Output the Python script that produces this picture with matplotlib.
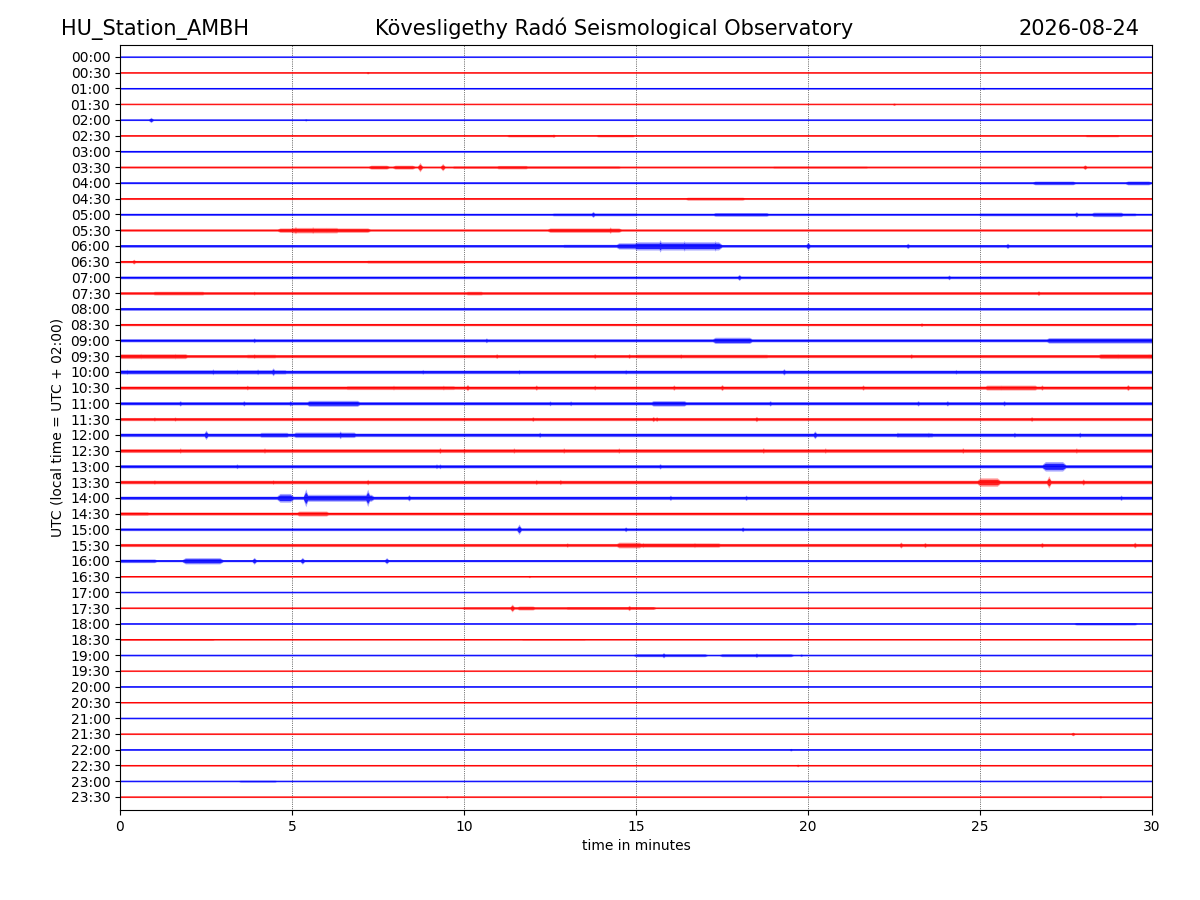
import numpy as np
import matplotlib
matplotlib.use("Agg")
import matplotlib.pyplot as plt

# ---------------- data ----------------
STATION = "HU_Station_AMBH"
OBSERVATORY = "Kövesligethy Radó Seismological Observatory"
DATE = "2026-08-24"
XLABEL = "time in minutes"
YLABEL = "UTC (local time = UTC + 02:00)"

row_labels = [f"{h:02d}:{m:02d}" for h in range(24) for m in (0, 30)]
row_colors = ["blue", "red"] * 24

# background noise half-amplitude of each 30-minute trace (screen pixels)
base_amp = [0.5, 0.5, 0.6, 0.5, 0.55, 0.6, 0.8, 0.75, 0.75, 0.75,
            0.9, 0.9, 1.1, 1.0, 1.15, 1.15, 1.15, 1.0, 1.3, 1.3,
            1.5, 1.4, 1.4, 1.3, 1.5, 1.6, 1.4, 1.5, 1.4, 1.3,
            1.15, 1.3, 0.9, 0.6, 0.55, 0.6, 0.55, 0.6, 0.6, 0.5,
            0.55, 0.55, 0.55, 0.55, 0.6, 0.6, 0.55, 0.55]

# wave trains: (row, start minute, end minute, half-amplitude)
bursts_row = [5, 5, 5,
              7, 7, 7, 7, 7,
              8, 8, 8,
              9, 10, 10, 10, 10, 10,
              11, 11, 11, 11,
              12, 12, 12, 13, 15, 15,
              18, 18, 18,
              19, 19, 19, 19,
              20, 20,
              21, 21,
              22, 22,
              24, 24, 24,
              26,
              27, 28, 28,
              29, 29,
              31, 31,
              32, 32,
              35, 35, 35,
              36, 37, 37,
              38, 38, 46]
bursts_t0 = [11.3, 13.9, 28.1,
             7.3, 8.0, 9.7, 11.0, 19.0,
             26.6, 29.3, 25.0,
             16.5, 12.6, 15.0, 17.3, 28.3, 25.0,
             4.65, 12.5, 15.0, 5.0,
             12.9, 14.5, 15.0, 7.2, 1.0, 10.1,
             17.3, 27.0, 0.0,
             0.0, 3.7, 15.0, 28.5,
             0.0, 5.0,
             6.6, 25.2,
             5.5, 15.5,
             4.1, 5.1, 22.6,
             26.9,
             25.0, 4.65, 5.4,
             0.0, 5.2,
             14.5, 15.0,
             0.0, 1.9,
             10.0, 11.6, 13.0,
             27.8, 0.0, 11.7,
             15.0, 17.5, 3.5]
bursts_t1 = [12.6, 14.9, 29.0,
             7.75, 8.5, 14.5, 11.8, 21.7,
             27.7, 29.9, 29.5,
             18.1, 15.0, 21.2, 18.8, 29.1, 29.5,
             7.2, 14.5, 17.9, 6.3,
             15.0, 15.0, 17.4, 10.0, 2.4, 10.5,
             18.3, 30.0, 4.0,
             1.9, 4.5, 18.8, 30.0,
             4.8, 30.0,
             9.7, 26.6,
             6.9, 16.4,
             4.85, 6.8, 23.6,
             27.4,
             25.5, 4.95, 7.3,
             0.8, 6.0,
             15.1, 17.4,
             1.0, 2.9,
             14.5, 12.0, 15.5,
             29.5, 2.7, 13.5,
             17.0, 19.5, 4.5]
bursts_amp = [1.0, 1.0, 0.9,
              1.6, 1.6, 1.0, 1.4, 0.9,
              1.5, 1.6, 0.8,
              1.2, 1.2, 1.0, 1.5, 1.8, 1.2,
              1.8, 1.8, 0.8, 2.2,
              1.3, 2.5, 3.3, 1.2, 1.5, 1.5,
              2.5, 2.2, 1.3,
              2.0, 1.5, 1.5, 2.0,
              1.8, 1.4,
              1.6, 2.0,
              2.4, 2.2,
              2.0, 2.2, 1.8,
              3.8,
              3.4, 3.5, 2.8,
              1.5, 2.0,
              2.3, 1.8,
              1.5, 2.5,
              1.0, 1.6, 1.2,
              1.0, 0.8, 0.7,
              1.2, 1.2, 0.8]

# single short arrivals: (row, minute, half-amplitude)
spikes_row = [1, 2, 3, 4, 4, 5, 7, 7, 7, 7, 10, 10, 11, 11, 11, 11,
              12, 12, 12, 12, 12, 12, 13, 14, 14, 15, 15, 17, 18, 18,
              19, 19, 20, 20, 21, 21, 21, 21, 23, 23, 23, 23, 24, 24, 24,
              25, 25, 26, 26, 27, 27, 27, 28, 28, 28, 30, 30, 30, 31, 31,
              32, 32, 32, 32, 33, 35, 35, 38, 38, 38, 43, 44, 45, 47, 47,
              # smaller arrivals on the busy day-time traces
              19, 19, 19, 19, 19, 19, 19, 19,
              20, 20, 20, 20, 20, 20, 20, 20,
              21, 21, 21, 21, 21, 21, 21, 21,
              22, 22, 22, 22, 22, 22, 22, 22, 22,
              23, 23, 23,
              24, 24, 24, 24, 24,
              25, 25, 25, 25, 25, 25, 25, 25, 25,
              26, 26,
              27, 27, 27, 27, 27,
              28, 28, 28, 29,
              31, 31, 31, 31, 31]
spikes_t = [7.2, 25.1, 22.5, 0.9, 5.4, 12.6, 8.72, 9.38, 28.05, 7.6, 13.75, 27.8,
            5.1, 5.6, 6.0, 14.25,
            15.7, 16.4, 17.3, 20.0, 22.9, 25.8, 0.4, 18.0, 24.1, 3.9, 26.7,
            23.3, 3.9, 10.65,
            0.6, 1.6, 4.45, 19.3, 10.1, 16.1, 17.5, 29.3, 1.0, 1.6, 12.0, 15.5,
            2.5, 6.4, 20.2,
            18.7, 24.5, 9.3, 15.7, 7.2, 27.0, 28.0, 5.4, 7.2, 8.4, 11.6, 14.7,
            18.1, 13.0, 22.7,
            3.9, 5.3, 7.75, 2.3, 11.9, 11.4, 14.8, 15.8, 18.5, 19.8, 27.7,
            19.5, 19.7, 9.5, 28.5,
            3.9, 10.95, 13.8, 14.8, 16.3, 23.0, 29.0, 29.9,
            0.2, 2.7, 3.4, 4.0, 8.8, 11.6, 14.7, 24.3,
            3.7, 7.95, 9.4, 12.1, 13.8, 21.6, 25.6, 26.8,
            1.75, 3.6, 4.95, 12.5, 13.1, 18.9, 23.2, 24.05, 25.7,
            15.6, 18.5, 26.5,
            12.2, 22.6, 23.5, 26.0, 27.9,
            1.75, 4.2, 9.3, 10.0, 11.45, 12.9, 14.5, 20.5, 27.8,
            3.4, 9.2,
            1.0, 4.45, 12.1, 12.8, 25.3,
            16.0, 18.2, 29.1, 5.5,
            15.2, 16.7, 23.4, 26.8, 29.5]
spikes_amp = [1.0, 1.0, 1.0, 2.2, 0.9, 1.4, 3.8, 3.0, 2.0, 1.4, 2.5, 2.3,
              3.0, 2.8, 2.3, 2.6,
              5.0, 4.2, 4.2, 3.2, 2.2, 2.2, 2.0, 2.5, 2.0, 1.6, 2.0,
              1.6, 2.0, 2.0,
              2.3, 2.3, 3.2, 2.6, 2.6, 2.2, 2.5, 2.5, 1.8, 1.8, 2.0, 2.2,
              3.8, 3.2, 3.2,
              2.3, 2.3, 2.0, 2.2, 2.3, 5.0, 2.6, 7.2, 7.0, 2.6, 4.2, 2.0,
              2.0, 1.9, 2.5,
              2.8, 2.8, 2.6, 2.6, 1.0, 3.2, 2.2, 2.2, 1.9, 1.1, 1.5,
              1.1, 1.1, 0.9, 0.9,
              2.0, 2.0, 2.0, 2.0, 2.0, 2.0, 2.2, 2.2,
              2.2, 2.4, 2.2, 2.4, 2.0, 2.0, 2.0, 2.0,
              2.0, 2.0, 2.0, 2.2, 2.0, 2.2, 2.2, 2.2,
              2.2, 2.2, 2.2, 2.0, 2.0, 2.2, 2.2, 2.2, 2.2,
              2.0, 2.2, 2.0,
              2.2, 2.2, 2.2, 2.2, 2.2,
              2.2, 2.2, 2.4, 2.2, 2.2, 2.2, 2.2, 2.2, 2.2,
              2.0, 2.0,
              2.0, 2.0, 2.2, 2.2, 2.4,
              2.2, 2.2, 2.2, 2.0,
              2.2, 2.2, 2.2, 2.2, 2.4]

# ---------------- drawing ----------------
PX_PER_ROW = 15.74          # amplitudes above are in screen pixels
minutes = np.linspace(0, 30, 6001)

fig = plt.figure(figsize=(12, 9), dpi=100)
ax = fig.add_axes([0.1, 0.1, 0.86, 0.85])

n_rows = len(row_labels)
for i in range(n_rows):
    env = np.full_like(minutes, base_amp[i])
    for r, t0, t1, a in zip(bursts_row, bursts_t0, bursts_t1, bursts_amp):
        if r != i:
            continue
        taper = np.clip(np.minimum(minutes - t0, t1 - minutes) / 0.15 + 1.0, 0, 1)
        env = np.maximum(env, a * taper)
    for r, tc, a in zip(spikes_row, spikes_t, spikes_amp):
        if r != i:
            continue
        shape = np.clip(1 - np.abs(minutes - tc) / 0.09, 0, 1)
        env = np.maximum(env, a * shape)
    env = env / PX_PER_ROW
    # soft outer band and denser core to imitate the wiggly trace
    ax.fill_between(minutes, i - 1.25 * env, i + 1.25 * env,
                    color=row_colors[i], linewidth=0, alpha=0.35)
    ax.fill_between(minutes, i - 0.8 * env, i + 0.8 * env,
                    color=row_colors[i], linewidth=0, alpha=0.8)
    ax.plot(minutes, np.full_like(minutes, i), color=row_colors[i], lw=0.7)

for g in (5, 10, 15, 20, 25):
    ax.axvline(g, color="black", lw=0.5, ls=":", zorder=0)

ax.set_xlim(0, 30)
ax.set_ylim(47.83, -0.76)
ax.set_yticks(range(n_rows))
ax.set_yticklabels(row_labels)
ax.set_xticks([0, 5, 10, 15, 20, 25, 30])
ax.set_xlabel(XLABEL)
ax.set_ylabel(YLABEL)

fig.text(0.051, 0.961, STATION, fontsize=15, ha="left", va="baseline")
fig.text(0.512, 0.961, OBSERVATORY, fontsize=15, ha="center", va="baseline")
fig.text(0.95, 0.961, DATE, fontsize=15, ha="right", va="baseline")

fig.savefig("out.png", dpi=100)
